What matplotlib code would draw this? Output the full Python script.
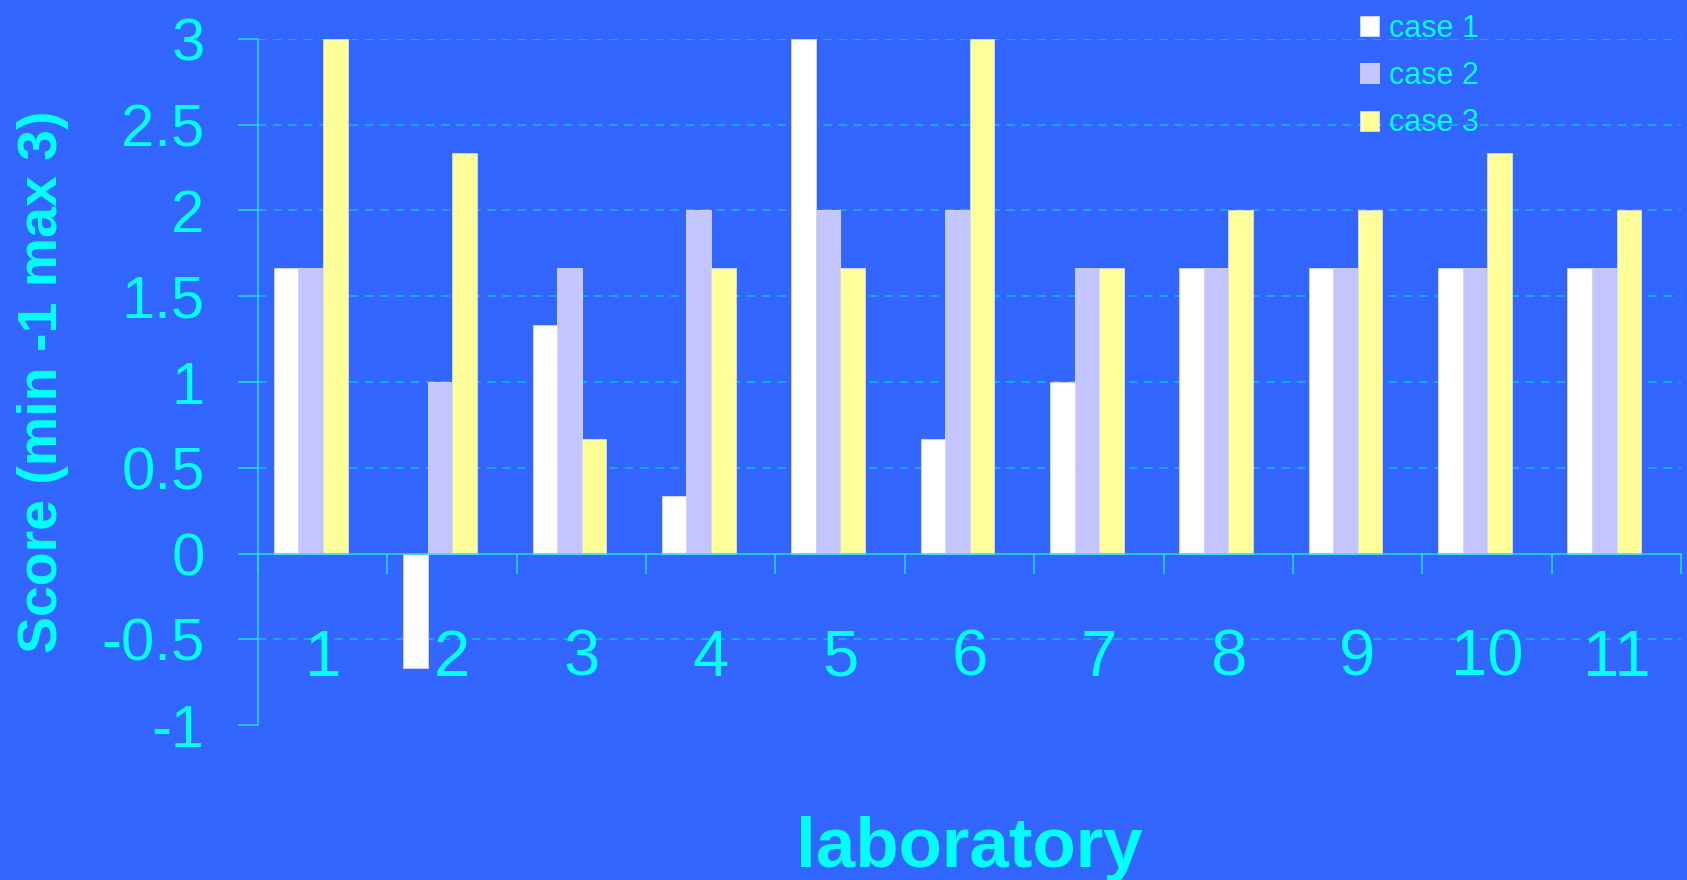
import matplotlib
matplotlib.use("Agg")
import matplotlib.pyplot as plt
import numpy as np

LABS = ["1", "2", "3", "4", "5", "6", "7", "8", "9", "10", "11"]
CASE1 = [1.667, -0.667, 1.333, 0.333, 3.0, 0.667, 1.0, 1.667, 1.667, 1.667, 1.667]
CASE2 = [1.667, 1.0, 1.667, 2.0, 2.0, 2.0, 1.667, 1.667, 1.667, 1.667, 1.667]
CASE3 = [3.0, 2.333, 0.667, 1.667, 1.667, 3.0, 1.667, 2.0, 2.0, 2.333, 2.0]
SERIES = ["case 1", "case 2", "case 3"]
YTICKS = [-1, -0.5, 0, 0.5, 1, 1.5, 2, 2.5, 3]
YTICKLABELS = ["-1", "-0.5", "0", "0.5", "1", "1.5", "2", "2.5", "3"]

BG = "#3366FF"
TXT = "#00FFFF"
AXC = "#22DDFF"
COLORS = ["#FFFFFF", "#C4C4FF", "#FFFF99"]

plt.rcParams["font.family"] = ["Liberation Sans", "DejaVu Sans"]
plt.rcParams["axes.unicode_minus"] = False
plt.rcParams["lines.scale_dashes"] = False

fig = plt.figure(figsize=(16.87, 8.8), dpi=100, facecolor=BG)
ax = fig.add_axes([258 / 1687, 1 - 725 / 880, 1423 / 1687, 686 / 880])
ax.set_facecolor(BG)

x = np.arange(1, len(LABS) + 1)
w = 0.19
shift = -0.093
for k, (vals, name) in enumerate(zip([CASE1, CASE2, CASE3], SERIES)):
  ax.bar(x + shift + (k - 1) * w, vals, width=w, color=COLORS[k],
         edgecolor="#D8D8F0", linewidth=0.6, label=name, zorder=3)

# dashed gridlines
for t in YTICKS:
  if t in (-1, 0):
    continue
  ax.axhline(t, color="#11BBFF", lw=1.1, ls=(0, (6, 5)), zorder=1)

ax.set_xlim(0.5, len(LABS) + 0.5)
ax.set_ylim(-1, 3)

ax.spines["top"].set_visible(False)
ax.spines["right"].set_visible(False)
ax.spines["bottom"].set_position(("data", 0))
ax.spines["bottom"].set_color(AXC)
ax.spines["left"].set_color(AXC)
ax.spines["bottom"].set_linewidth(1.1)
ax.spines["left"].set_linewidth(1.1)
ax.spines["bottom"].set_zorder(4)

ax.set_yticks(YTICKS)
ax.set_yticklabels(YTICKLABELS)
ax.tick_params(axis="y", direction="out", length=14.4, width=1.1, color=AXC,
               labelcolor=TXT, labelsize=43, pad=24)

ax.set_xticks(x)
ax.set_xticklabels(LABS)
ax.set_xticks(np.arange(0.5, len(LABS) + 1, 1.0), minor=True)
ax.tick_params(axis="x", which="major", length=0, labelcolor=TXT,
               labelsize=47, pad=54)
ax.tick_params(axis="x", which="minor", direction="out", length=14.4,
               width=1.1, color=AXC)

ax.set_ylabel("Score (min -1 max 3)", fontsize=40, fontweight="bold", color=TXT)
ax.yaxis.set_label_coords(-0.151, 0.5)
ax.yaxis.label.set_va("center")

ax.set_xlabel("laboratory", fontsize=51, fontweight="bold", color=TXT)
ax.xaxis.set_label_coords(0.5, -0.207)
ax.xaxis.label.set_va("baseline")

leg = ax.legend(loc="center left", bbox_to_anchor=(1360 / 1687, 1 - 76 / 880),
                bbox_transform=fig.transFigure, frameon=False, fontsize=22,
                handlelength=0.62, handleheight=0.62, handletextpad=0.33,
                labelspacing=0.57, borderpad=0, borderaxespad=0)
for t in leg.get_texts():
  t.set_color(TXT)

fig.savefig("out.png", dpi=100, facecolor=BG)
